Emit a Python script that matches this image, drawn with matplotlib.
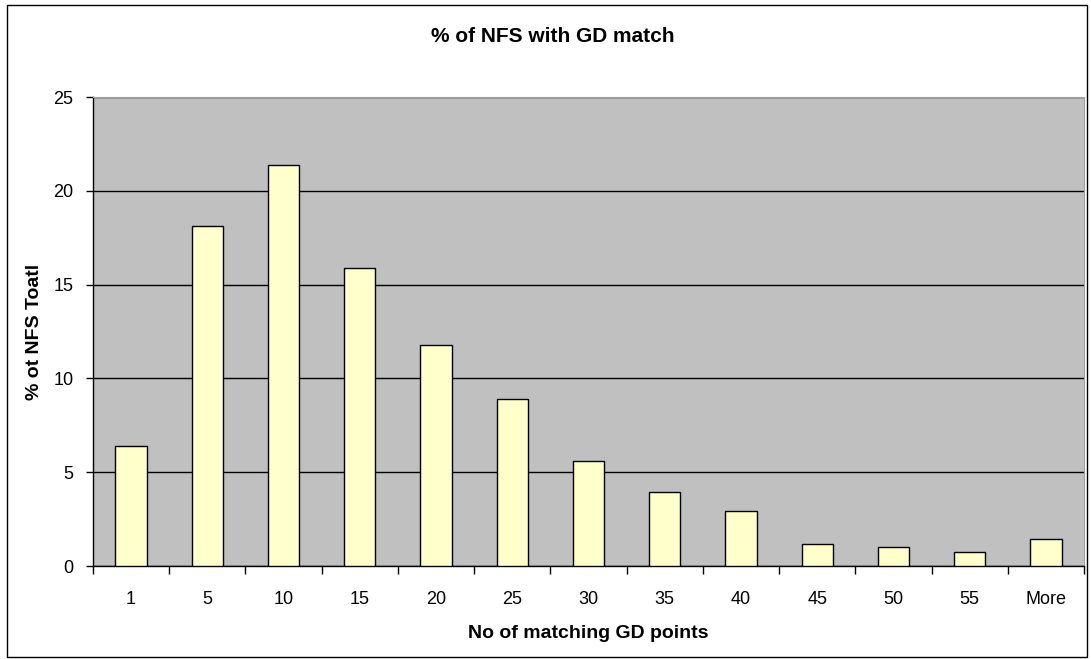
import matplotlib.pyplot as plt
import numpy as np
from matplotlib.patches import Rectangle

# Histogram data
categories = ['1', '5', '10', '15', '20', '25', '30', '35', '40', '45', '50', '55', 'More']
percent = [6.4, 18.15, 21.4, 15.9, 11.8, 8.9, 5.6, 3.97, 2.93, 1.17, 1.0, 0.75, 1.45]

plt.rcParams['font.family'] = ['Liberation Sans', 'DejaVu Sans']

fig = plt.figure(figsize=(10.91, 6.59), dpi=100)
ax = fig.add_axes([0.0852, 0.1411, 0.9084, 0.7117])

x = np.arange(len(categories))
ax.bar(x, percent, width=0.41, color='#FFFFCC', edgecolor='black', linewidth=1.0, zorder=3)

ax.set_facecolor('#C0C0C0')
ax.set_xlim(-0.5, len(categories) - 0.5)
ax.set_ylim(0, 25)
ax.set_yticks([0, 5, 10, 15, 20, 25])
ax.yaxis.grid(True, color='black', linewidth=1.0, zorder=1)

# category labels centered, tick marks at category boundaries
ax.set_xticks(x)
ax.set_xticklabels(categories, fontsize=13)
ax.tick_params(axis='x', which='major', length=0, pad=18)
ax.set_xticks(np.arange(-0.5, len(categories)), minor=True)
ax.tick_params(axis='x', which='minor', length=6, width=1, color='black')
ax.tick_params(axis='y', length=5, width=1, labelsize=13, pad=9)

for side in ['top', 'right']:
    ax.spines[side].set_color('#A0A0A0')
    ax.spines[side].set_linewidth(0.8)
for side in ['left', 'bottom']:
    ax.spines[side].set_color('black')
    ax.spines[side].set_linewidth(1.0)

ax.set_xlabel('No of matching GD points', fontsize=14, fontweight='bold')
ax.set_ylabel('% ot NFS Toatl', fontsize=14, fontweight='bold')
ax.xaxis.set_label_coords(0.5, -0.125)
ax.yaxis.set_label_coords(-0.05, 0.5)
fig.text(0.507, 0.944, '% of NFS with GD match', ha='center', va='center',
         fontsize=15, fontweight='bold')

# outer chart border
fig.patches.append(Rectangle((0.006, 0.003), 0.99, 0.99, transform=fig.transFigure,
                             fill=False, edgecolor='black', linewidth=1.0))

fig.savefig('out.png', dpi=100)
